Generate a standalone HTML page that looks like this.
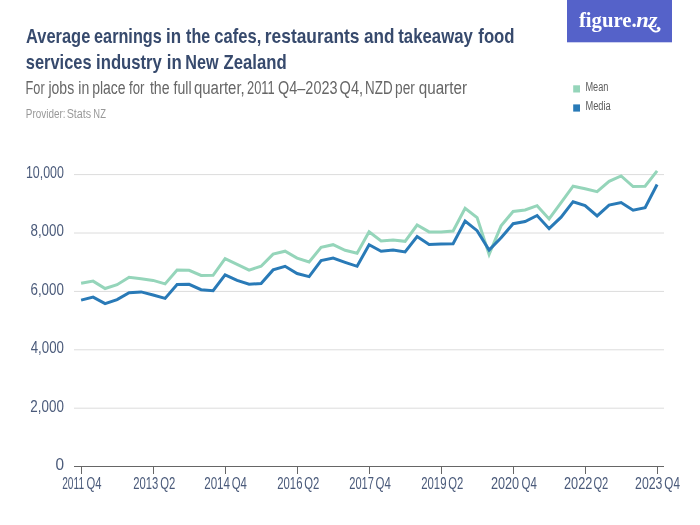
<!DOCTYPE html>
<html lang="en"><head><meta charset="utf-8"><title>Average earnings in the cafes, restaurants and takeaway food services industry in New Zealand</title>
<style>
html,body{margin:0;padding:0;background:#fff;}
body{width:700px;height:525px;overflow:hidden;font-family:"Liberation Sans",sans-serif;}
svg{display:block;}
text{font-family:"Liberation Sans",sans-serif;}
.t{font-size:20.6px;font-weight:bold;fill:#374a6d;}
.s{font-size:17.6px;fill:#666;}
.p{font-size:12px;fill:#999;}
.ax{font-size:16.4px;fill:#4a5a7a;}
.lg{font-size:12px;fill:#5c5c5c;}
.logo{font-family:"Liberation Serif",serif;font-weight:bold;font-size:21.5px;fill:#fff;}
</style></head><body>
<svg width="700" height="525" viewBox="0 0 700 525">
<rect width="700" height="525" fill="#fff"/>
<rect x="567" y="0" width="105" height="42.3" fill="#5562c9"/>
<text class="logo" x="578.90" y="26.8" textLength="57.75" lengthAdjust="spacingAndGlyphs">figure.</text>
<text class="logo" x="636.25" y="26.8" font-style="italic" textLength="21.32" lengthAdjust="spacingAndGlyphs">nz</text>
<path d="M648.6 25.6 C650.5 27.2 652 31.4 655.6 31.6 C658 31.7 659.8 30.2 659.6 28.6" fill="none" stroke="#fff" stroke-width="1.9" stroke-linecap="round"/>
<circle cx="658.4" cy="28.2" r="1.5" fill="#fff"/>
<text class="t" y="42.8"><tspan x="26.04" textLength="64.27" lengthAdjust="spacingAndGlyphs">Average</tspan> <tspan x="94.09" textLength="67.67" lengthAdjust="spacingAndGlyphs">earnings</tspan> <tspan x="166.04" textLength="15.08" lengthAdjust="spacingAndGlyphs">in</tspan> <tspan x="186.10" textLength="24.00" lengthAdjust="spacingAndGlyphs">the</tspan> <tspan x="214.28" textLength="47.00" lengthAdjust="spacingAndGlyphs">cafes,</tspan> <tspan x="264.81" textLength="94.69" lengthAdjust="spacingAndGlyphs">restaurants</tspan> <tspan x="364.03" textLength="30.46" lengthAdjust="spacingAndGlyphs">and</tspan> <tspan x="398.30" textLength="74.49" lengthAdjust="spacingAndGlyphs">takeaway</tspan> <tspan x="478.34" textLength="36.23" lengthAdjust="spacingAndGlyphs">food</tspan></text>
<text class="t" y="68.8"><tspan x="25.79" textLength="65.78" lengthAdjust="spacingAndGlyphs">services</tspan> <tspan x="96.06" textLength="65.84" lengthAdjust="spacingAndGlyphs">industry</tspan> <tspan x="166.85" textLength="14.97" lengthAdjust="spacingAndGlyphs">in</tspan> <tspan x="185.29" textLength="33.26" lengthAdjust="spacingAndGlyphs">New</tspan> <tspan x="223.54" textLength="63.13" lengthAdjust="spacingAndGlyphs">Zealand</tspan></text>
<text class="s" y="93.5"><tspan x="25.61" textLength="19.05" lengthAdjust="spacingAndGlyphs">For</tspan> <tspan x="48.44" textLength="25.70" lengthAdjust="spacingAndGlyphs">jobs</tspan> <tspan x="78.32" textLength="10.97" lengthAdjust="spacingAndGlyphs">in</tspan> <tspan x="92.13" textLength="33.44" lengthAdjust="spacingAndGlyphs">place</tspan> <tspan x="129.00" textLength="15.46" lengthAdjust="spacingAndGlyphs">for</tspan> <tspan x="149.90" textLength="19.67" lengthAdjust="spacingAndGlyphs">the</tspan> <tspan x="173.60" textLength="18.03" lengthAdjust="spacingAndGlyphs">full</tspan> <tspan x="193.93" textLength="50.79" lengthAdjust="spacingAndGlyphs">quarter,</tspan> <tspan x="247.00" textLength="27.73" lengthAdjust="spacingAndGlyphs">2011</tspan> <tspan x="278.12" textLength="59.36" lengthAdjust="spacingAndGlyphs">Q4–2023</tspan> <tspan x="339.62" textLength="23.47" lengthAdjust="spacingAndGlyphs">Q4,</tspan> <tspan x="365.05" textLength="27.51" lengthAdjust="spacingAndGlyphs">NZD</tspan> <tspan x="395.04" textLength="19.82" lengthAdjust="spacingAndGlyphs">per</tspan> <tspan x="418.72" textLength="48.25" lengthAdjust="spacingAndGlyphs">quarter</tspan></text>
<text class="p" y="117.5"><tspan x="25.81" textLength="39.68" lengthAdjust="spacingAndGlyphs">Provider:</tspan> <tspan x="66.65" textLength="24.61" lengthAdjust="spacingAndGlyphs">Stats</tspan> <tspan x="93.36" textLength="12.50" lengthAdjust="spacingAndGlyphs">NZ</tspan></text>
<rect x="573.2" y="85.3" width="6.8" height="7.2" fill="#95d5ba"/>
<rect x="573.2" y="104.4" width="6.8" height="7.2" fill="#297ab7"/>
<text class="lg" x="585.4" y="90.7" textLength="23" lengthAdjust="spacingAndGlyphs">Mean</text>
<text class="lg" x="585.4" y="109.6" textLength="25.3" lengthAdjust="spacingAndGlyphs">Media</text>
<line x1="74" x2="664" y1="174.6" y2="174.6" stroke="#dcdcdc" stroke-width="1"/>
<line x1="74" x2="664" y1="233.0" y2="233.0" stroke="#dcdcdc" stroke-width="1"/>
<line x1="74" x2="664" y1="291.4" y2="291.4" stroke="#dcdcdc" stroke-width="1"/>
<line x1="74" x2="664" y1="349.8" y2="349.8" stroke="#dcdcdc" stroke-width="1"/>
<line x1="74" x2="664" y1="408.2" y2="408.2" stroke="#dcdcdc" stroke-width="1"/>
<line x1="74" x2="664" y1="466.5" y2="466.5" stroke="#666" stroke-width="1"/>
<line x1="81.5" x2="81.5" y1="466" y2="474" stroke="#666" stroke-width="1"/>
<line x1="153.5" x2="153.5" y1="466" y2="474" stroke="#666" stroke-width="1"/>
<line x1="225.5" x2="225.5" y1="466" y2="474" stroke="#666" stroke-width="1"/>
<line x1="297.5" x2="297.5" y1="466" y2="474" stroke="#666" stroke-width="1"/>
<line x1="369.5" x2="369.5" y1="466" y2="474" stroke="#666" stroke-width="1"/>
<line x1="441.5" x2="441.5" y1="466" y2="474" stroke="#666" stroke-width="1"/>
<line x1="513.5" x2="513.5" y1="466" y2="474" stroke="#666" stroke-width="1"/>
<line x1="585.5" x2="585.5" y1="466" y2="474" stroke="#666" stroke-width="1"/>
<line x1="657.5" x2="657.5" y1="466" y2="474" stroke="#666" stroke-width="1"/>
<text class="ax" x="25.92" y="177.9" textLength="37.99" lengthAdjust="spacingAndGlyphs">10,000</text>
<text class="ax" x="30.48" y="236.3" textLength="33.45" lengthAdjust="spacingAndGlyphs">8,000</text>
<text class="ax" x="30.47" y="294.7" textLength="33.46" lengthAdjust="spacingAndGlyphs">6,000</text>
<text class="ax" x="30.69" y="353.1" textLength="33.24" lengthAdjust="spacingAndGlyphs">4,000</text>
<text class="ax" x="30.37" y="411.5" textLength="33.56" lengthAdjust="spacingAndGlyphs">2,000</text>
<text class="ax" x="55.42" y="469.9" textLength="8.56" lengthAdjust="spacingAndGlyphs">0</text>
<text class="ax" y="488.7"><tspan x="62.18" textLength="21.93" lengthAdjust="spacingAndGlyphs">2011</tspan> <tspan x="86.62" textLength="15.01" lengthAdjust="spacingAndGlyphs">Q4</tspan></text>
<text class="ax" y="488.7"><tspan x="133.24" textLength="24.99" lengthAdjust="spacingAndGlyphs">2013</tspan> <tspan x="160.33" textLength="15.05" lengthAdjust="spacingAndGlyphs">Q2</tspan></text>
<text class="ax" y="488.7"><tspan x="204.19" textLength="25.87" lengthAdjust="spacingAndGlyphs">2014</tspan> <tspan x="231.65" textLength="15.22" lengthAdjust="spacingAndGlyphs">Q4</tspan></text>
<text class="ax" y="488.7"><tspan x="277.24" textLength="25.20" lengthAdjust="spacingAndGlyphs">2016</tspan> <tspan x="304.33" textLength="15.05" lengthAdjust="spacingAndGlyphs">Q2</tspan></text>
<text class="ax" y="488.7"><tspan x="349.25" textLength="24.63" lengthAdjust="spacingAndGlyphs">2017</tspan> <tspan x="375.50" textLength="15.37" lengthAdjust="spacingAndGlyphs">Q4</tspan></text>
<text class="ax" y="488.7"><tspan x="421.24" textLength="25.20" lengthAdjust="spacingAndGlyphs">2019</tspan> <tspan x="448.33" textLength="15.05" lengthAdjust="spacingAndGlyphs">Q2</tspan></text>
<text class="ax" y="488.7"><tspan x="490.91" textLength="28.21" lengthAdjust="spacingAndGlyphs">2020</tspan> <tspan x="521.56" textLength="15.37" lengthAdjust="spacingAndGlyphs">Q4</tspan></text>
<text class="ax" y="488.7"><tspan x="564.00" textLength="28.35" lengthAdjust="spacingAndGlyphs">2022</tspan> <tspan x="593.38" textLength="14.90" lengthAdjust="spacingAndGlyphs">Q2</tspan></text>
<text class="ax" y="488.7"><tspan x="635.12" textLength="27.35" lengthAdjust="spacingAndGlyphs">2023</tspan> <tspan x="664.31" textLength="15.58" lengthAdjust="spacingAndGlyphs">Q4</tspan></text>
<polyline fill="none" stroke="#95d5ba" stroke-width="3" stroke-linejoin="miter" points="81.1,283.3 93.1,281.1 105.1,288.5 117.1,284.7 129.1,277.3 141.1,278.7 153.1,280.4 165.1,283.9 177.1,270.1 189.1,270.3 201.1,275.4 213.1,275.3 225.1,258.6 237.1,264.3 249.1,270.1 261.1,266.3 273.1,254.1 285.1,251.2 297.1,258.1 309.1,262.0 321.1,247.4 333.1,244.7 345.1,250.3 357.1,253.3 369.1,231.8 381.1,240.9 393.1,239.9 405.1,241.3 417.1,225.0 429.1,231.9 441.1,231.9 453.1,231.0 465.1,208.2 477.1,217.6 489.1,254.4 501.1,225.8 513.1,211.5 525.1,210.0 537.1,205.7 549.1,218.9 561.1,202.6 573.1,186.2 585.1,188.8 597.1,191.7 609.1,181.4 621.1,175.9 633.1,186.5 645.1,186.2 657.1,170.8"/>
<polyline fill="none" stroke="#297ab7" stroke-width="3" stroke-linejoin="miter" points="81.1,300.1 93.1,297.1 105.1,303.6 117.1,299.6 129.1,292.8 141.1,291.9 153.1,295.0 165.1,298.4 177.1,284.4 189.1,284.3 201.1,289.7 213.1,290.7 225.1,274.9 237.1,280.4 249.1,284.3 261.1,283.5 273.1,269.9 285.1,266.3 297.1,273.5 309.1,276.6 321.1,260.6 333.1,258.1 345.1,262.3 357.1,266.3 369.1,244.7 381.1,251.3 393.1,249.9 405.1,251.9 417.1,236.5 429.1,244.4 441.1,243.9 453.1,243.7 465.1,221.1 477.1,230.7 489.1,250.0 501.1,237.8 513.1,223.7 525.1,221.5 537.1,215.5 549.1,228.7 561.1,217.2 573.1,201.7 585.1,205.5 597.1,215.9 609.1,205.1 621.1,202.5 633.1,210.2 645.1,207.6 657.1,184.5"/>
</svg></body></html>
